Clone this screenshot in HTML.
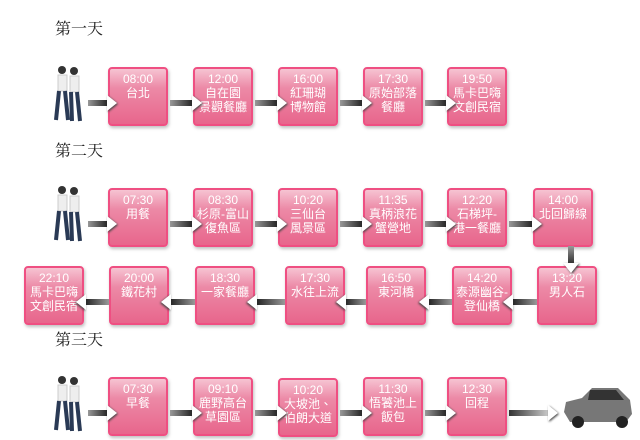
<!DOCTYPE html>
<html><head><meta charset="utf-8"><style>
body{margin:0;width:640px;height:440px;background:#fff;position:relative;overflow:hidden;font-family:"Liberation Sans","Noto Sans CJK TC",sans-serif}
.t{position:absolute;font-size:16px;color:#222;font-family:"Liberation Serif","Noto Serif CJK SC",serif}
.b{position:absolute;width:56px;height:52px;border:2px solid #ef4f82;border-radius:4px;background:linear-gradient(#f6c3d2 0%,#ec89a6 35%,#e8668c 100%);color:#fff;font-size:12px;line-height:14px;text-align:center;padding-top:3px;box-sizing:content-box;box-shadow:1px 2px 3px rgba(0,0,0,.25)}
.a{position:absolute;height:6px;background:linear-gradient(90deg,#999,#222);z-index:2}
.a:after{content:"";position:absolute;right:-9px;top:-5px;border-left:10px solid #fff;border-top:8px solid transparent;border-bottom:8px solid transparent;filter:drop-shadow(1px 1px 1px #444)}
.al{position:absolute;height:6px;background:linear-gradient(270deg,#999,#222);z-index:2}
.al:after{content:"";position:absolute;left:-9px;top:-5px;border-right:10px solid #fff;border-top:8px solid transparent;border-bottom:8px solid transparent;filter:drop-shadow(-1px 1px 1px #444)}
.p{position:absolute;width:36px;height:60px}
</style></head><body>
<div class="t" style="left:55px;top:16px">第一天</div>
<div class="t" style="left:55px;top:138px">第二天</div>
<div class="t" style="left:55px;top:327px">第三天</div>

<svg class="p" style="left:50px;top:65px" viewBox="0 0 36 60"><circle cx="12" cy="5" r="4" fill="#333"/><circle cx="24" cy="6" r="4" fill="#333"/><rect x="8" y="10" width="9" height="16" fill="#eee" stroke="#ccc"/><rect x="20" y="11" width="9" height="16" fill="#eee" stroke="#ccc"/><path d="M9 26 L6 55 M15 26 L18 55 M21 27 L22 56 M27 27 L30 56" stroke="#2a3a55" stroke-width="4"/></svg>
<svg class="p" style="left:50px;top:185px" viewBox="0 0 36 60"><circle cx="12" cy="5" r="4" fill="#333"/><circle cx="24" cy="6" r="4" fill="#333"/><rect x="8" y="10" width="9" height="16" fill="#eee" stroke="#ccc"/><rect x="20" y="11" width="9" height="16" fill="#eee" stroke="#ccc"/><path d="M9 26 L6 55 M15 26 L18 55 M21 27 L22 56 M27 27 L30 56" stroke="#2a3a55" stroke-width="4"/></svg>
<svg class="p" style="left:50px;top:375px" viewBox="0 0 36 60"><circle cx="12" cy="5" r="4" fill="#333"/><circle cx="24" cy="6" r="4" fill="#333"/><rect x="8" y="10" width="9" height="16" fill="#eee" stroke="#ccc"/><rect x="20" y="11" width="9" height="16" fill="#eee" stroke="#ccc"/><path d="M9 26 L6 55 M15 26 L18 55 M21 27 L22 56 M27 27 L30 56" stroke="#2a3a55" stroke-width="4"/></svg>

<!-- row1 -->
<div class="a" style="left:88px;top:100px;width:20px"></div>
<div class="b" style="left:108px;top:67px">08:00<br>台北</div>
<div class="a" style="left:170px;top:100px;width:23px"></div>
<div class="b" style="left:193px;top:67px">12:00<br>自在園<br>景觀餐廳</div>
<div class="a" style="left:255px;top:100px;width:23px"></div>
<div class="b" style="left:278px;top:67px">16:00<br>紅珊瑚<br>博物館</div>
<div class="a" style="left:340px;top:100px;width:23px"></div>
<div class="b" style="left:363px;top:67px">17:30<br>原始部落<br>餐廳</div>
<div class="a" style="left:425px;top:100px;width:22px"></div>
<div class="b" style="left:447px;top:67px">19:50<br>馬卡巴嗨<br>文創民宿</div>

<!-- row2 -->
<div class="a" style="left:88px;top:221px;width:20px"></div>
<div class="b" style="left:108px;top:188px">07:30<br>用餐</div>
<div class="a" style="left:170px;top:221px;width:23px"></div>
<div class="b" style="left:193px;top:188px">08:30<br>杉原-富山<br>復魚區</div>
<div class="a" style="left:255px;top:221px;width:23px"></div>
<div class="b" style="left:278px;top:188px">10:20<br>三仙台<br>風景區</div>
<div class="a" style="left:340px;top:221px;width:23px"></div>
<div class="b" style="left:363px;top:188px">11:35<br>真柄浪花<br>蟹營地</div>
<div class="a" style="left:425px;top:221px;width:22px"></div>
<div class="b" style="left:447px;top:188px">12:20<br>石梯坪-<br>港一餐廳</div>
<div class="a" style="left:509px;top:221px;width:24px"></div>
<div class="b" style="left:533px;top:188px">14:00<br>北回歸線</div>
<div style="position:absolute;left:568px;top:246px;width:6px;height:20px;background:linear-gradient(#999,#222);z-index:2"></div>
<div style="position:absolute;left:563px;top:263px;border-top:10px solid #fff;border-left:8px solid transparent;border-right:8px solid transparent;filter:drop-shadow(1px 1px 1px #444);z-index:3"></div>

<!-- row3 -->
<div class="b" style="left:537px;top:266px">13:20<br>男人石</div>
<div class="al" style="left:512px;top:299px;width:25px"></div>
<div class="b" style="left:452px;top:266px">14:20<br>泰源幽谷-<br>登仙橋</div>
<div class="al" style="left:428px;top:299px;width:24px"></div>
<div class="b" style="left:366px;top:266px">16:50<br>東河橋</div>
<div class="al" style="left:345px;top:299px;width:21px"></div>
<div class="b" style="left:285px;top:266px">17:30<br>水往上流</div>
<div class="al" style="left:256px;top:299px;width:29px"></div>
<div class="b" style="left:195px;top:266px">18:30<br>一家餐廳</div>
<div class="al" style="left:170px;top:299px;width:25px"></div>
<div class="b" style="left:109px;top:266px">20:00<br>鐵花村</div>
<div class="al" style="left:85px;top:299px;width:24px"></div>
<div class="b" style="left:24px;top:266px">22:10<br>馬卡巴嗨<br>文創民宿</div>

<!-- row4 -->
<div class="a" style="left:88px;top:410px;width:20px"></div>
<div class="b" style="left:108px;top:377px">07:30<br>早餐</div>
<div class="a" style="left:170px;top:410px;width:23px"></div>
<div class="b" style="left:193px;top:377px">09:10<br>鹿野高台<br>草園區</div>
<div class="a" style="left:255px;top:410px;width:23px"></div>
<div class="b" style="left:278px;top:378px">10:20<br>大坡池、<br>伯朗大道</div>
<div class="a" style="left:340px;top:410px;width:23px"></div>
<div class="b" style="left:363px;top:377px">11:30<br>悟饕池上<br>飯包</div>
<div class="a" style="left:425px;top:410px;width:22px"></div>
<div class="b" style="left:447px;top:377px">12:30<br>回程</div>
<div class="a" style="left:509px;top:410px;width:40px;background:linear-gradient(90deg,#333,#ccc)"></div>
<svg style="position:absolute;left:560px;top:382px" width="76" height="48" viewBox="0 0 76 48"><path d="M4 30 L6 20 L22 16 L32 6 L58 6 L70 18 L72 32 L66 40 L10 40 Z" fill="#777"/><path d="M30 8 L56 8 L64 18 L28 18 Z" fill="#333"/><circle cx="18" cy="40" r="6" fill="#222"/><circle cx="62" cy="40" r="6" fill="#222"/></svg>
</body></html>
